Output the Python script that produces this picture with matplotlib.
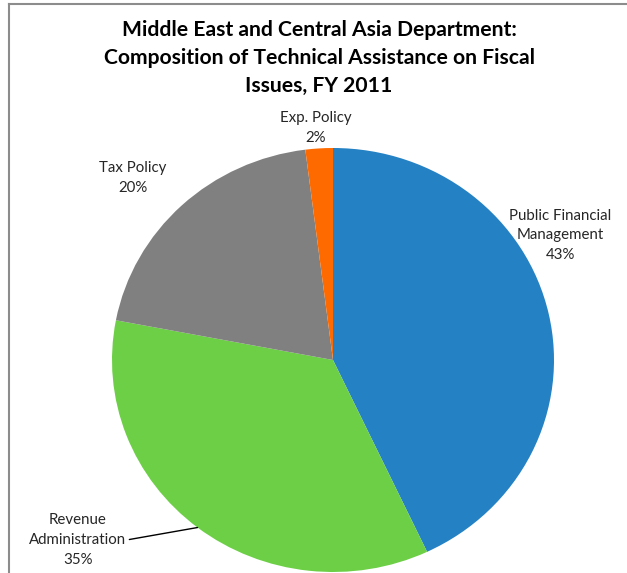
import numpy as np
import matplotlib
matplotlib.use("Agg")
import matplotlib.pyplot as plt
from matplotlib.lines import Line2D

# Fiscal technical assistance shares, FY 2011 (percent)
categories = ["Public Financial\nManagement", "Revenue\nAdministration", "Tax Policy", "Exp. Policy"]
shares = [43, 35, 20, 2]
colors = ["#2481C3", "#6CCF46", "#808080", "#FF6A00"]

title = ("Middle East and Central Asia Department:\n"
         "Composition of Technical Assistance on Fiscal\n"
         "Issues, FY 2011")

W, H = 627, 573
fig = plt.figure(figsize=(W / 100, H / 100), dpi=100)
fig.patch.set_facecolor("white")

# pie box in pixels (left, top, right, bottom)
px_l, px_t, px_r, px_b = 112, 148, 554, 572
ax = fig.add_axes([px_l / W, 1 - px_b / H, (px_r - px_l) / W, (px_b - px_t) / H])
wedges, _ = ax.pie(shares, colors=colors, startangle=90, counterclock=False,
                   wedgeprops=dict(linewidth=0))
ax.set_aspect("auto")
ax.set_xlim(-1, 1)
ax.set_ylim(-1, 1)
ax.axis("off")

label_font = dict(family=["Lato", "DejaVu Sans"], fontsize=10.8, color="#262626",
                  ha="center", va="center", linespacing=1.5)

# label centres in pixels
label_pos = [(560, 235), (78, 540), (133, 178), (316, 128)]
for i, (cat, val, (lx, ly)) in enumerate(zip(categories, shares, label_pos)):
    txt = f"{cat}\n{val}%"
    if i == 1:
        w = wedges[i]
        mid = np.deg2rad((w.theta1 + w.theta2) / 2)
        ax.annotate(txt, xy=(np.cos(mid), np.sin(mid)), xycoords="data",
                    xytext=(lx / W, 1 - ly / H), textcoords="figure fraction",
                    arrowprops=dict(arrowstyle="-", color="black", lw=1.0,
                                    shrinkA=0, shrinkB=0,
                                    relpos=(1.0, 0.5)),
                    annotation_clip=False, **label_font)
    else:
        fig.text(lx / W, 1 - ly / H, txt, **label_font)

fig.text(319 / W, 1 - 58 / H, title, family=["Lato", "DejaVu Sans"], fontweight="bold",
         fontsize=15.2, ha="center", va="center", linespacing=1.5, color="black")

# thin frame along the top and left
fig.add_artist(Line2D([9 / W, 1], [1 - 4 / H, 1 - 4 / H], transform=fig.transFigure,
                      color="#8c8c8c", lw=1.5))
fig.add_artist(Line2D([9 / W, 9 / W], [1 - 4 / H, 0], transform=fig.transFigure,
                      color="#8c8c8c", lw=1.5))

fig.savefig("out.png", dpi=100, facecolor="white")
